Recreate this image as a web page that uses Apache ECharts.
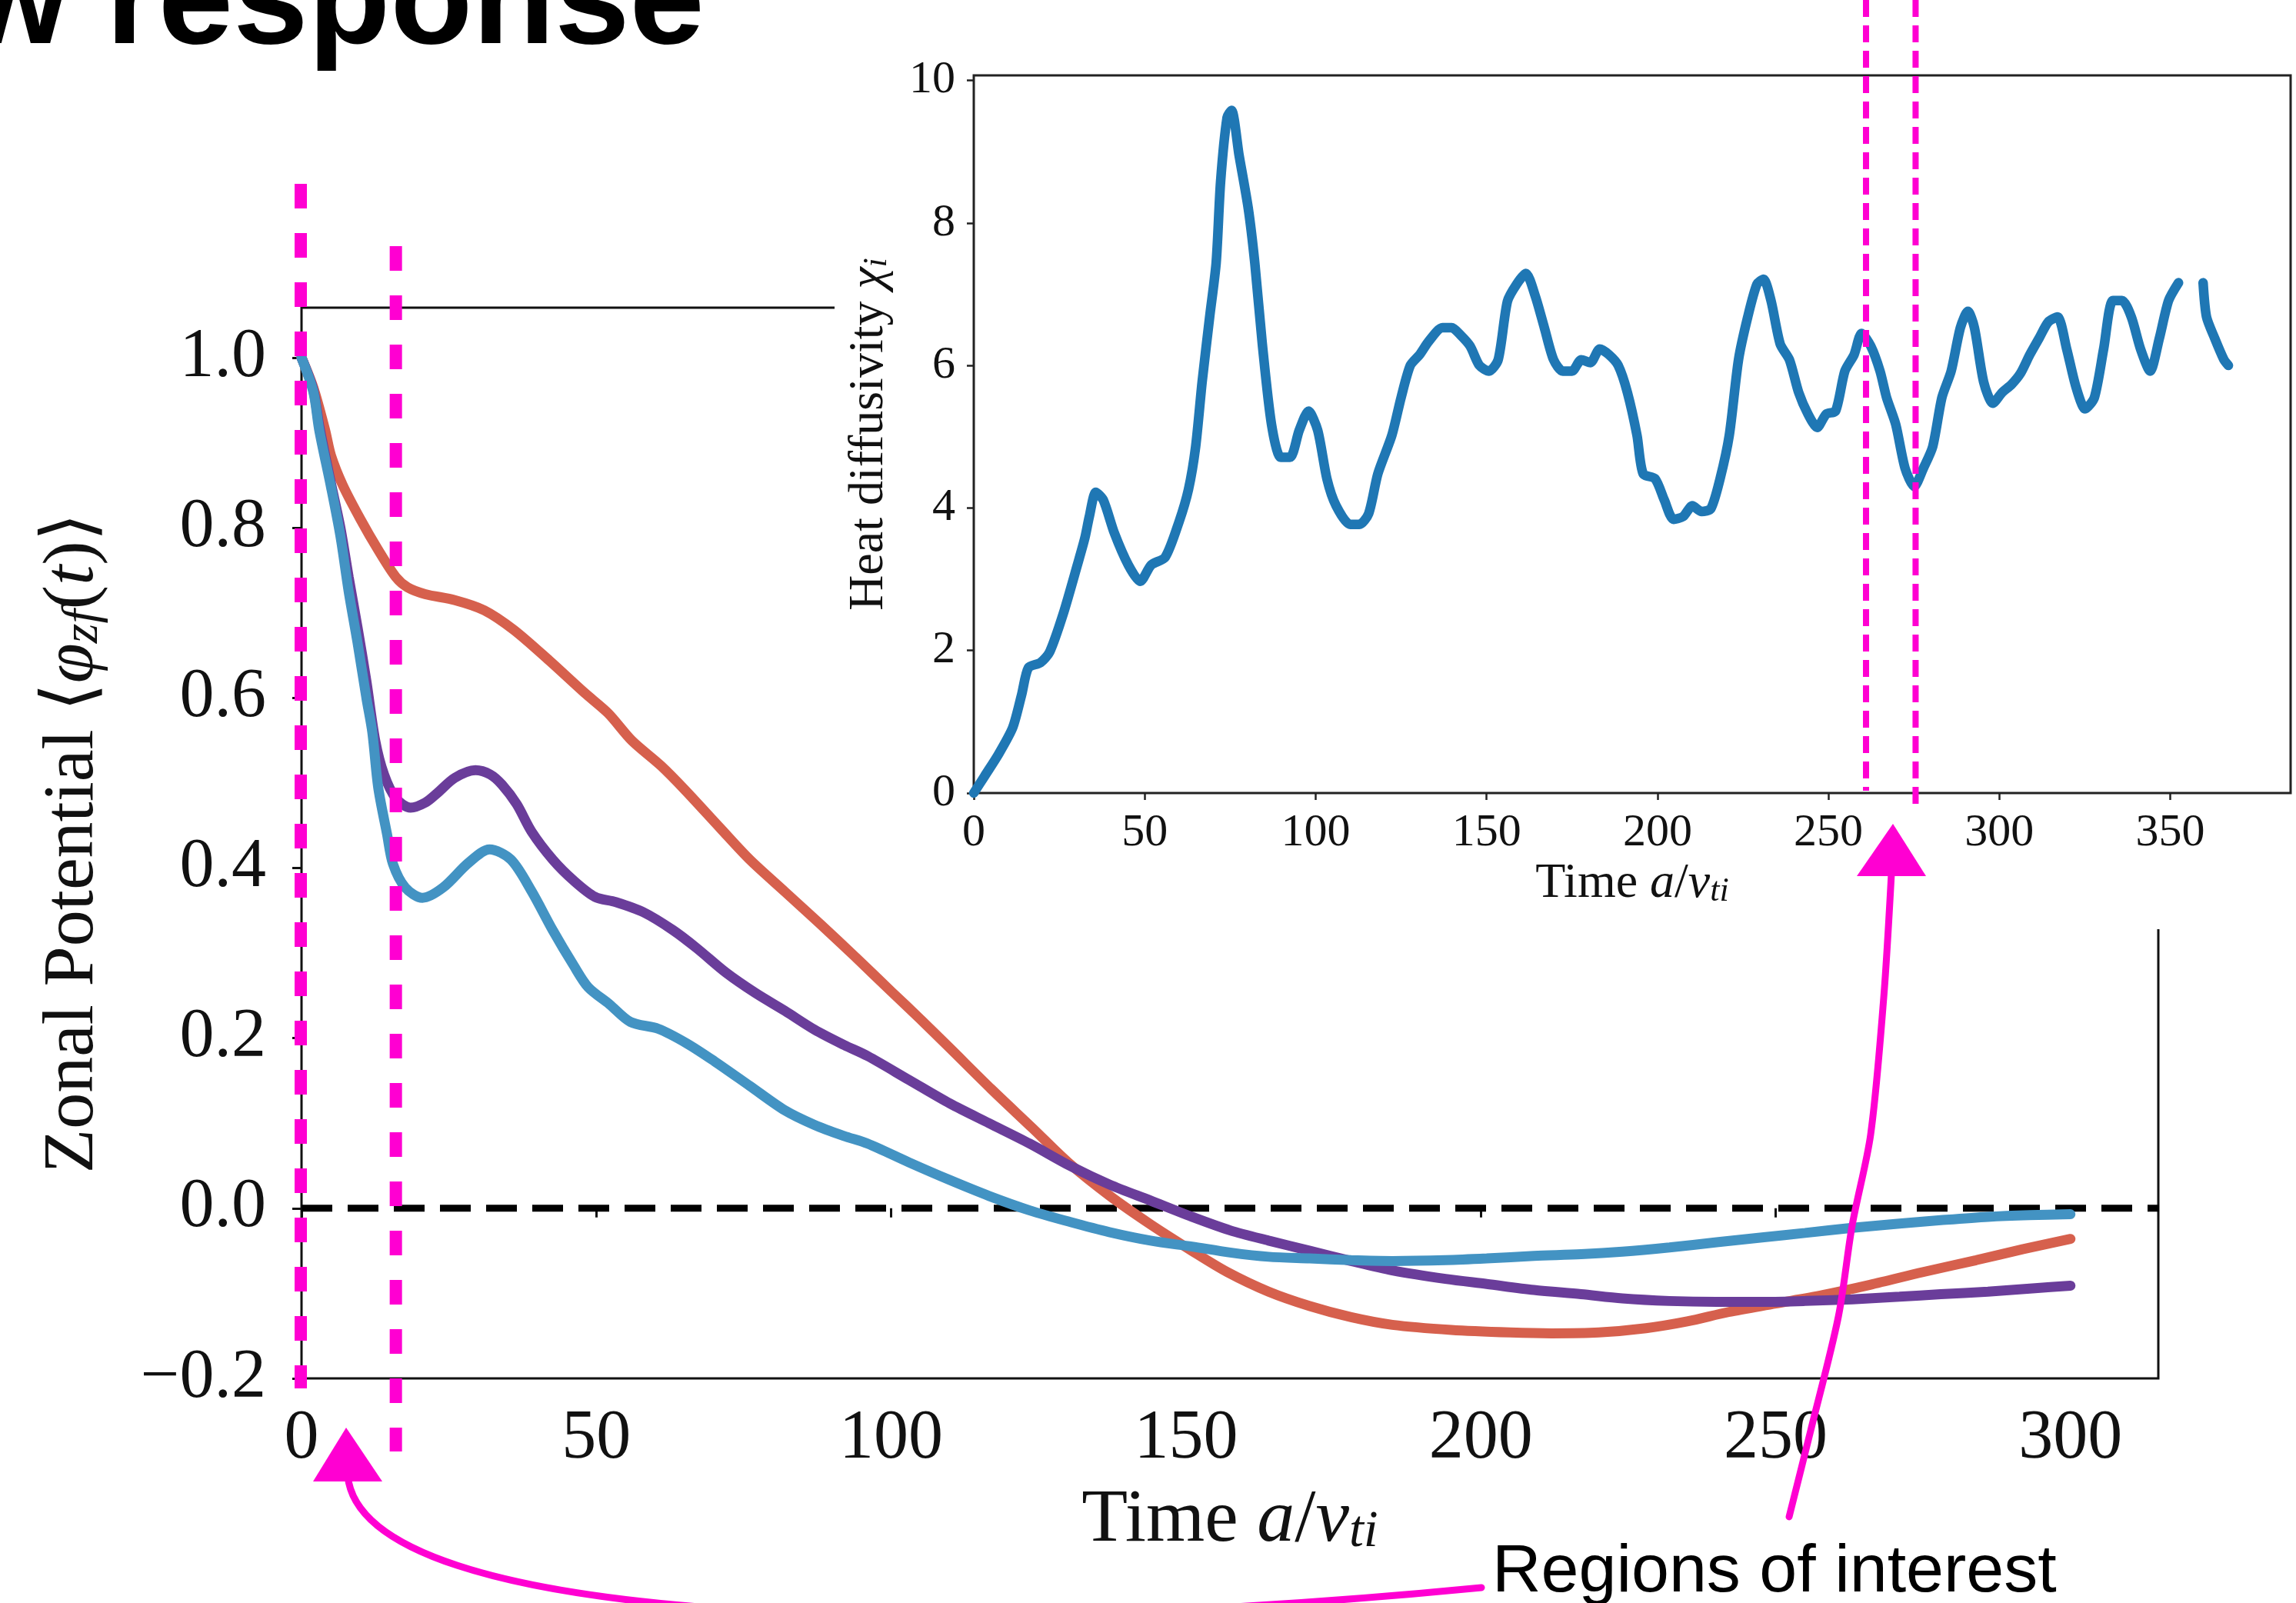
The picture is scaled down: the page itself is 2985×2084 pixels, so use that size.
<!DOCTYPE html>
<html><head><meta charset="utf-8">
<script src="https://cdn.jsdelivr.net/npm/echarts@6/dist/echarts.min.js"></script>
<style>html,body{margin:0;padding:0;background:#fff}#c{width:2985px;height:2084px}</style>
</head><body><div id="c"></div>
<script>
// ---- tick labels ----
const mainXTicks = [0, 50, 100, 150, 200, 250, 300];
const mainYTicks = [-0.2, 0, 0.2, 0.4, 0.6, 0.8, 1.0];
const insetXTicks = [0, 50, 100, 150, 200, 250, 300, 350];
const insetYTicks = [0, 2, 4, 6, 8, 10];

// ---- main panel: zonal potential <phi_zf(t)> ----
const redCurve = [[0,1.0],[2,0.965],[4,0.915],[5,0.885],[7,0.85],[10,0.81],[13,0.774],[16,0.742],[18,0.73],[21,0.722],[26,0.715],[31,0.703],[36,0.68],[42,0.644],[48,0.606],[52,0.582],[56,0.55],[61,0.52],[65,0.492],[71,0.447],[76,0.41],[82,0.372],[88,0.334],[94,0.295],[100,0.255],[105,0.222],[110,0.188],[117,0.14],[124,0.094],[130,0.054],[137,0.015],[144,-0.019],[151,-0.05],[157,-0.075],[164,-0.098],[171,-0.115],[178,-0.128],[185,-0.137],[195,-0.143],[205,-0.146],[212,-0.147],[220,-0.146],[228,-0.141],[235,-0.133],[242,-0.122],[250,-0.112],[258,-0.102],[266,-0.09],[275,-0.075],[284,-0.061],[292,-0.048],[300,-0.036]];
const purpleCurve = [[0,1.0],[2,0.962],[3,0.92],[5,0.852],[6.6,0.8],[8,0.742],[9.5,0.683],[11,0.62],[12.5,0.55],[14,0.51],[16,0.482],[18.5,0.471],[21,0.477],[23,0.488],[26,0.506],[29.5,0.515],[32,0.51],[34,0.498],[36.5,0.475],[39,0.443],[42.6,0.41],[46.2,0.385],[49.8,0.366],[53.3,0.36],[58,0.348],[63,0.327],[67,0.306],[72,0.277],[77,0.253],[82,0.232],[87,0.21],[92,0.192],[96,0.179],[103,0.151],[110,0.123],[116.6,0.1],[123.5,0.076],[130.3,0.05],[137,0.028],[144,0.009],[151,-0.01],[157.5,-0.026],[164,-0.038],[171,-0.05],[178,-0.062],[185,-0.073],[194,-0.083],[201,-0.089],[209,-0.096],[217,-0.101],[224,-0.106],[232,-0.109],[240,-0.11],[248,-0.11],[255,-0.109],[263,-0.107],[271,-0.104],[278,-0.101],[286,-0.098],[294,-0.094],[300,-0.091]];
const blueCurve = [[0,1.0],[2,0.96],[3,0.915],[5,0.848],[6.6,0.79],[8,0.725],[9.5,0.665],[11,0.6],[12,0.56],[13,0.495],[14.5,0.44],[15.5,0.405],[17.6,0.377],[20.5,0.365],[24,0.377],[28.3,0.406],[31.9,0.422],[35.5,0.41],[39,0.373],[42.6,0.327],[46.2,0.285],[48.6,0.26],[52.2,0.24],[55.8,0.219],[60.5,0.211],[65.3,0.194],[70,0.173],[76,0.144],[82,0.115],[87,0.098],[92,0.085],[96,0.076],[103,0.054],[110,0.033],[116.6,0.0145],[123.5,-0.0025],[130.3,-0.016],[137,-0.028],[144,-0.038],[151,-0.045],[157.5,-0.052],[164,-0.057],[171,-0.059],[178,-0.061],[185,-0.062],[194,-0.061],[201,-0.059],[209,-0.056],[217,-0.054],[224,-0.051],[232,-0.046],[240,-0.04],[248,-0.034],[255,-0.029],[263,-0.023],[271,-0.018],[278,-0.014],[286,-0.01],[293,-0.008],[300,-0.007]];
const zeroLine = [[0,0],[315,0]];

// ---- inset: heat diffusivity chi_i ----
const chiCurve = [[0,0],[3.2,0.24],[7.3,0.55],[11.4,0.92],[14,1.38],[16,1.76],[19.5,1.83],[22.2,1.98],[26.2,2.52],[30.3,3.2],[32.5,3.58],[33.8,3.88],[35.7,4.22],[37.9,4.11],[41.1,3.65],[45.2,3.2],[48.7,2.97],[51.9,3.2],[56,3.31],[60,3.8],[62.8,4.26],[64.9,4.86],[66.8,5.77],[69,6.68],[70.9,7.44],[72.2,8.58],[74.1,9.48],[75.4,9.58],[77.6,8.95],[80.3,8.2],[82.2,7.44],[84.4,6.3],[87.1,5.17],[89.8,4.71],[92.5,4.71],[95.2,5.09],[97.9,5.36],[100.6,5.09],[103.3,4.41],[106,4.03],[110.1,3.77],[112.8,3.77],[115.5,3.92],[118.2,4.48],[122.3,5.02],[125,5.55],[127.7,6.0],[130.4,6.15],[133.1,6.34],[137.1,6.53],[139.8,6.53],[142.5,6.42],[145.2,6.27],[147.9,6.0],[150.7,5.92],[153.4,6.08],[156.1,6.9],[158.8,7.14],[161.5,7.29],[164.2,6.98],[166.9,6.53],[169.6,6.08],[172.3,5.92],[175,5.92],[177.7,6.08],[180.4,6.04],[183.1,6.23],[185.8,6.15],[188.5,6.0],[191.2,5.62],[194,5.02],[195.8,4.48],[199.3,4.41],[202,4.11],[204.7,3.84],[207.5,3.88],[210.2,4.03],[212.9,3.95],[215.6,3.99],[218.3,4.41],[221,5.02],[223.7,6.08],[226.4,6.68],[229.1,7.14],[231,7.21],[233.2,6.91],[235.9,6.3],[238.6,6.08],[241.3,5.62],[244,5.32],[246.7,5.13],[249.4,5.32],[252.1,5.36],[254.8,5.92],[257.5,6.15],[259.7,6.45],[262.4,6.27],[265.1,5.92],[267,5.55],[269.7,5.17],[272.4,4.56],[275.1,4.3],[277.8,4.56],[280.5,4.86],[283.2,5.55],[285.9,5.92],[288.6,6.53],[290.8,6.76],[292.7,6.53],[295.4,5.77],[298.1,5.47],[300.8,5.62],[303.5,5.73],[306.2,5.89],[308.9,6.15],[311.6,6.38],[314.3,6.61],[317,6.68],[319.7,6.23],[322.4,5.7],[325.1,5.39],[327.8,5.55],[330.5,6.23],[333.2,6.91],[335.9,6.91],[338.6,6.68],[341.3,6.23],[344.1,5.92],[346.8,6.38],[349.5,6.91],[352.4,7.16],['-','-'],[359.6,7.16],[360.6,6.68],[363,6.38],[365.7,6.08],[367,6.0]];

// ---- highlighted time windows ----
const mainRegions = [0, 16];
const insetRegions = [261, 275.5];

const SERIF = "'Liberation Serif','DejaVu Serif',serif";
const MAGENTA = '#ff00d2';

function richName(size, subSize, subLH, lh) {
  return {
    n: {fontFamily: SERIF, fontSize: size, color: '#111', lineHeight: lh, verticalAlign: 'bottom'},
    i: {fontFamily: SERIF, fontSize: size, fontStyle: 'italic', color: '#111', lineHeight: lh, verticalAlign: 'bottom'},
    s: {fontFamily: SERIF, fontSize: subSize, fontStyle: 'italic', color: '#111', lineHeight: subLH, verticalAlign: 'bottom'}
  };
}
const mainFmt = v => v < 0 ? '\u2212' + Math.abs(v).toFixed(1) : v.toFixed(1);

const chart = echarts.init(document.getElementById('c'), null, {renderer: 'canvas'});
const option = {
  animation: false,
  backgroundColor: '#fff',
  grid: [
    {left: 392, top: 400, width: 2414, height: 1392, show: true, borderColor: '#111', borderWidth: 3, backgroundColor: 'transparent', z: 2},
    {left: 1266, top: 98, width: 1712, height: 933, show: true, borderColor: '#222', borderWidth: 3, backgroundColor: 'transparent', z: 60}
  ],
  xAxis: [
    {type: 'value', gridIndex: 0, min: 0, max: 314.9,
     axisLine: {show: false}, splitLine: {show: false},
     axisTick: {show: true, length: 12, lineStyle: {color: '#111', width: 3}, customValues: mainXTicks},
     axisLabel: {customValues: mainXTicks, margin: 34, fontFamily: SERIF, fontSize: 90, color: '#111'},
     name: '{n|Time }{i|a}{n|/}{i|v}{s|ti}', nameLocation: 'middle', nameGap: 124,
     nameTextStyle: {rich: richName(98, 68, 60, 110)}},
    {type: 'value', gridIndex: 1, min: 0, max: 385.2, z: 61,
     axisLine: {show: false}, splitLine: {show: false},
     axisTick: {show: true, length: 9, lineStyle: {color: '#222', width: 2.5}, customValues: insetXTicks},
     axisLabel: {customValues: insetXTicks, margin: 22, fontFamily: SERIF, fontSize: 60, color: '#111'},
     name: '{n|Time }{i|a}{n|/}{i|v}{s|ti}', nameLocation: 'middle', nameGap: 78,
     nameTextStyle: {rich: richName(64, 44, 40, 72)}}
  ],
  yAxis: [
    {type: 'value', gridIndex: 0, min: -0.2, max: 1.0588,
     axisLine: {show: false}, splitLine: {show: false},
     axisTick: {show: true, length: 12, lineStyle: {color: '#111', width: 3}, customValues: mainYTicks},
     axisLabel: {customValues: mainYTicks, margin: 46, fontFamily: SERIF, fontSize: 90, color: '#111', formatter: mainFmt},
     name: '{n|Zonal Potential \u27E8}{i|\u03C6}{s|zf}{n|(}{i|t}{n|)\u27E9}', nameLocation: 'middle', nameGap: 250, nameRotate: 90,
     nameTextStyle: {rich: richName(94, 66, 60, 110)}},
    {type: 'value', gridIndex: 1, min: 0, max: 10.07, z: 61,
     axisLine: {show: false}, splitLine: {show: false},
     axisTick: {show: true, length: 9, lineStyle: {color: '#222', width: 2.5}, customValues: insetYTicks},
     axisLabel: {customValues: insetYTicks, margin: 24, fontFamily: SERIF, fontSize: 60, color: '#111'},
     name: '{n|Heat diffusivity }{i|\u03C7}{s|i}', nameLocation: 'middle', nameGap: 104, nameRotate: 90,
     nameTextStyle: {rich: richName(64, 44, 40, 72)}}
  ],
  series: [
    {type: 'line', name: 'zero', xAxisIndex: 0, yAxisIndex: 0, data: zeroLine, symbol: 'none', z: 3,
     lineStyle: {color: '#000', width: 9, type: [40, 20]}},
    {type: 'line', name: 'red', xAxisIndex: 0, yAxisIndex: 0, data: redCurve, symbol: 'none', smooth: 0.3, z: 4,
     lineStyle: {color: '#d6604d', width: 13, cap: 'round'}},
    {type: 'line', name: 'purple', xAxisIndex: 0, yAxisIndex: 0, data: purpleCurve, symbol: 'none', smooth: 0.3, z: 5,
     lineStyle: {color: '#6a3d9a', width: 13, cap: 'round'}},
    {type: 'line', name: 'blue', xAxisIndex: 0, yAxisIndex: 0, data: blueCurve, symbol: 'none', smooth: 0.3, z: 6,
     lineStyle: {color: '#4393c3', width: 13, cap: 'round'}},
    {type: 'line', name: 'chi', xAxisIndex: 1, yAxisIndex: 1, data: chiCurve, symbol: 'none', smooth: 0.25, connectNulls: false, z: 62,
     lineStyle: {color: '#1f77b4', width: 12.5, cap: 'round', join: 'round'}}
  ]
};
chart.setOption(option);

const mx = mainRegions.map(v => chart.convertToPixel({xAxisIndex: 0}, v));
const ix = insetRegions.map(v => chart.convertToPixel({xAxisIndex: 1}, v));

const graphics = [
  {type: 'text', z: 100, style: {text: 'w response', x: -47, y: 8, font: "bold 175px 'Liberation Sans', Arial, sans-serif", fill: '#000', verticalAlign: 'middle', align: 'left'}},
  {type: 'rect', z: 50, shape: {x: 1085, y: 0, width: 1900, height: 1208}, style: {fill: '#fff'}},
  {type: 'line', z: 100, shape: {x1: mx[0] - 1, y1: 239, x2: mx[0] - 1, y2: 1805}, style: {stroke: MAGENTA, lineWidth: 16, lineDash: [32, 32]}},
  {type: 'line', z: 100, shape: {x1: mx[1], y1: 320, x2: mx[1], y2: 1887}, style: {stroke: MAGENTA, lineWidth: 16, lineDash: [32, 32]}},
  {type: 'line', z: 100, shape: {x1: ix[0], y1: 0, x2: ix[0], y2: 1028}, style: {stroke: MAGENTA, lineWidth: 8, lineDash: [22, 11]}},
  {type: 'line', z: 100, shape: {x1: ix[1], y1: 0, x2: ix[1], y2: 1052}, style: {stroke: MAGENTA, lineWidth: 8, lineDash: [22, 11]}},
  {type: 'bezierCurve', z: 100, shape: {x1: 1926, y1: 2064, cpx1: 1250, cpy1: 2130, cpx2: 470, cpy2: 2120, x2: 452, y2: 1918}, style: {stroke: MAGENTA, lineWidth: 9, fill: null, lineCap: 'round'}},
  {type: 'polygon', z: 100, shape: {points: [[450, 1856], [407, 1926], [497, 1926]]}, style: {fill: MAGENTA}},
  {type: 'polyline', z: 100, shape: {points: [[2326, 1972], [2354, 1860], [2390, 1712], [2408, 1593], [2432, 1475], [2449, 1297], [2459, 1136]], smooth: 0.3}, style: {stroke: MAGENTA, lineWidth: 9, fill: null, lineCap: 'round'}},
  {type: 'polygon', z: 100, shape: {points: [[2461, 1071], [2414, 1139], [2504, 1139]]}, style: {fill: MAGENTA}},
  {type: 'text', z: 100, style: {text: 'Regions of interest', x: 1940, y: 2045, font: "88px 'Liberation Sans', Arial, sans-serif", fill: '#000', verticalAlign: 'middle', align: 'left'}}
];
chart.setOption({graphic: graphics});
</script>
</body></html>
